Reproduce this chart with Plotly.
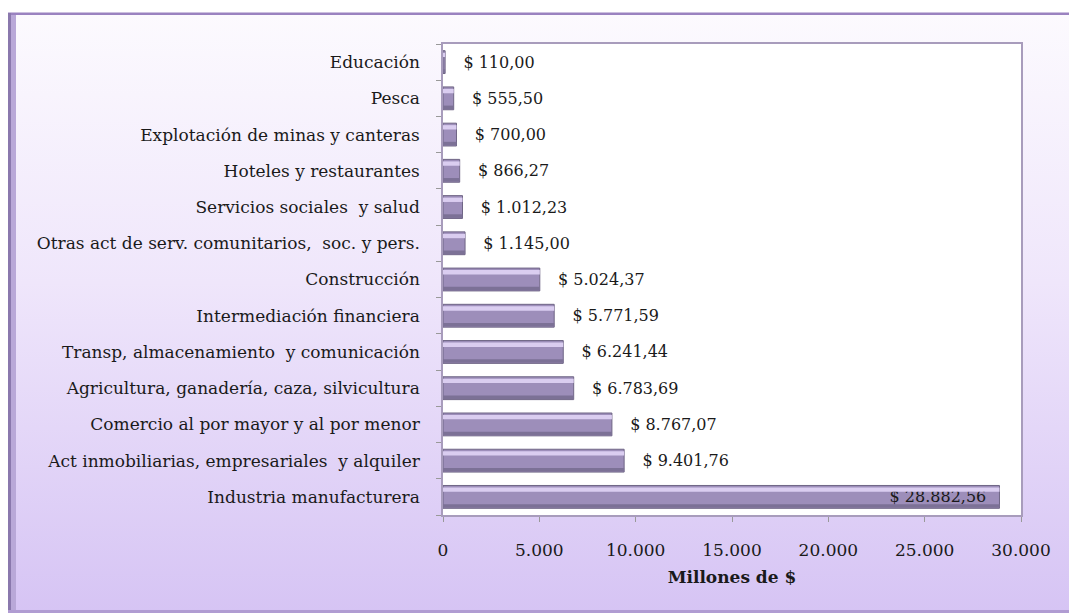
import base64
import plotly.graph_objects as go

# ---------- DATA ----------
sectores = [
    "Industria manufacturera",
    "Act inmobiliarias, empresariales  y alquiler",
    "Comercio al por mayor y al por menor",
    "Agricultura, ganadería, caza, silvicultura",
    "Transp, almacenamiento  y comunicación",
    "Intermediación financiera",
    "Construcción",
    "Otras act de serv. comunitarios,  soc. y pers.",
    "Servicios sociales  y salud",
    "Hoteles y restaurantes",
    "Explotación de minas y canteras",
    "Pesca",
    "Educación",
]
millones = [28882.56, 9401.76, 8767.07, 6783.69, 6241.44, 5771.59, 5024.37,
            1145.00, 1012.23, 866.27, 700.00, 555.50, 110.00]
x_ticks = [0, 5000, 10000, 15000, 20000, 25000, 30000]

# ---------- GEOMETRY ----------
W, H = 1069, 615
ML, MR, MT, MB = 443, 48, 44, 100
PW, PH = W - ML - MR, H - MT - MB


def px(x):
    return (x - ML) / PW


def py(y):
    return (H - MB - y) / PH


SERIF = "DejaVu Serif, serif"

# background gradient as svg image
svg = (
    '<svg xmlns="http://www.w3.org/2000/svg" width="100" height="100" preserveAspectRatio="none">'
    '<defs><linearGradient id="g" x1="0" y1="0" x2="0" y2="1">'
    '<stop offset="0" stop-color="#fcfafe"/>'
    '<stop offset="0.45" stop-color="#efe6fb"/>'
    '<stop offset="1" stop-color="#d6c4f4"/>'
    '</linearGradient></defs>'
    '<rect width="100" height="100" fill="url(#g)"/></svg>'
)
bg_src = "data:image/svg+xml;base64," + base64.b64encode(svg.encode()).decode()

biggest = max(millones)
label_pos = ["inside" if v == biggest else "outside" for v in millones]
label_tpl = ["$ %{x:,.2f}\u00a0\u00a0" if v == biggest else "\u00a0\u00a0\u00a0$ %{x:,.2f}"
             for v in millones]

fig = go.Figure()

# main bars
fig.add_trace(go.Bar(
    y=sectores,
    x=millones,
    orientation="h",
    width=0.63,
    marker=dict(color="#9d8eba", line=dict(color="#6f6585", width=1)),
    texttemplate=label_tpl,
    textposition=label_pos,
    insidetextanchor="end",
    constraintext="none",
    textfont=dict(family=SERIF, size=16, color="#1a1a1a"),
    cliponaxis=False,
    hoverinfo="skip",
    showlegend=False,
))

# glossy highlight near the top of each bar
fig.add_trace(go.Bar(
    y=sectores,
    x=millones,
    orientation="h",
    width=0.12,
    offset=0.14,
    marker=dict(color="#dacdf0", line=dict(width=0)),
    hoverinfo="skip",
    showlegend=False,
))

# shadow near the bottom of each bar
fig.add_trace(go.Bar(
    y=sectores,
    x=millones,
    orientation="h",
    width=0.1,
    offset=-0.3,
    marker=dict(color="#7c7196", line=dict(width=0)),
    hoverinfo="skip",
    showlegend=False,
))

# ---------- FRAME ----------
shapes = [
    # plot area white
    dict(type="rect", xref="paper", yref="paper", x0=0, x1=1, y0=0, y1=1,
         fillcolor="white", line=dict(width=0), layer="below"),
    # top purple border
    dict(type="rect", xref="paper", yref="paper", x0=px(8), x1=px(1080), y0=py(15), y1=py(12.5),
         fillcolor="#9a82c0", line=dict(width=0), layer="below"),
    # left bevel
    dict(type="rect", xref="paper", yref="paper", x0=px(8), x1=px(11), y0=py(612), y1=py(13),
         fillcolor="#8a78ad", line=dict(width=0), layer="below"),
    dict(type="rect", xref="paper", yref="paper", x0=px(11), x1=px(16), y0=py(611), y1=py(15),
         fillcolor="#b9a8d8", line=dict(width=0), layer="below"),
    # bottom border
    dict(type="rect", xref="paper", yref="paper", x0=px(8), x1=px(1080), y0=py(613), y1=py(610),
         fillcolor="#b09cd2", line=dict(width=0), layer="below"),
]

images = [dict(source=bg_src, xref="paper", yref="paper",
               x=px(8), y=py(13), sizex=px(1080) - px(8), sizey=py(13) - py(612),
               sizing="stretch", xanchor="left", yanchor="top", layer="below")]

fig.update_layout(
    width=W, height=H,
    margin=dict(l=ML, r=MR, t=MT, b=MB),
    paper_bgcolor="white",
    plot_bgcolor="rgba(0,0,0,0)",
    barmode="overlay",
    bargap=0.37,
    separators=",.",
    font=dict(family=SERIF, size=17, color="#1a1a1a"),
    shapes=shapes,
    images=images,
    showlegend=False,
)

fig.update_xaxes(
    range=[0, 30000],
    tickvals=x_ticks,
    tickformat=",d",
    ticks="outside", ticklen=5, tickcolor="#999999",
    ticklabelstandoff=14,
    tickfont=dict(family=SERIF, size=17, color="#1a1a1a"),
    showgrid=False, zeroline=False,
    showline=True, linecolor="#a89cbc", linewidth=1.5, mirror=True,
    title=dict(text="<b>Millones de $</b>", standoff=12,
               font=dict(family=SERIF, size=17, color="#1a1a1a")),
)

fig.update_yaxes(
    categoryorder="array", categoryarray=sectores,
    ticks="outside", ticklen=5, tickcolor="#999999", tickson="boundaries",
    ticklabelstandoff=18,
    tickfont=dict(family=SERIF, size=17, color="#1a1a1a"),
    showgrid=False, zeroline=False,
    showline=True, linecolor="#a89cbc", linewidth=1.5, mirror=True,
)

fig.write_html("out.html", config={"displayModeBar": False},
               post_script="document.body.style.margin='0';")
